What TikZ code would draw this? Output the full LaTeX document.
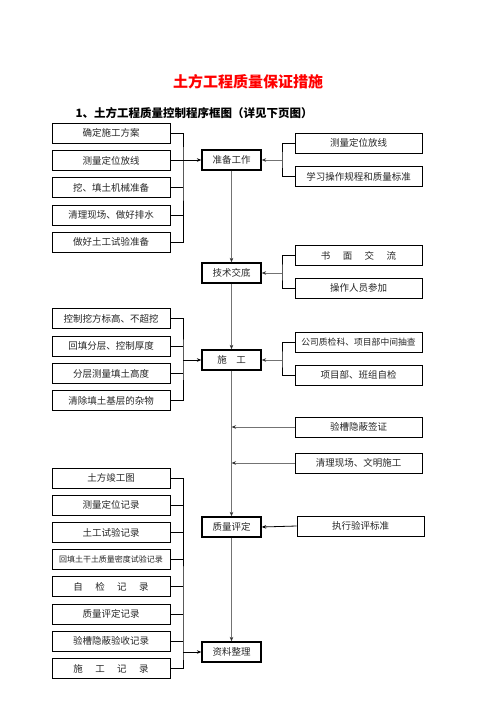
\documentclass[tikz,border=0pt]{standalone}
\usepackage{fontspec}
\setmainfont{Noto Sans CJK SC}
\usepackage{tikz}
\usetikzlibrary{arrows.meta}
\colorlet{linegray}{black!55!white}
\colorlet{boxtext}{black!85!white}

\tikzset{
  leftbox/.style={draw,line width=0.8pt,minimum width=118pt,minimum height=20pt,inner sep=0pt,
    text=boxtext,font=\fontsize{9.5}{10}\selectfont},
  rightbox/.style={leftbox,minimum width=127pt},
  midbox/.style={leftbox,line width=1.3pt,minimum width=59pt},
  brace/.style={line width=0.8pt},
  link/.style={line width=0.8pt,draw=linegray,>={Stealth[length=4.5pt,width=3.5pt,color=black!80]}},
  >={Stealth[length=4.5pt,width=3.5pt]}
}

\begin{document}
\begin{tikzpicture}[x=1pt,y=-1pt]
      \useasboundingbox (0,0) rectangle (496,702);

      \node[text=red,font=\bfseries\fontsize{15}{15}\selectfont] (title) at (248,82) {土方工程质量保证措施};
      \node[anchor=west,font=\bfseries\fontsize{11.5}{12}\selectfont] (sub) at (72,113) {1、土方工程质量控制程序框图（详见下页图）};

      % middle column
      \node[midbox] (zb) at (231.5,160) {准备工作};
      \node[midbox] (jd) at (231.5,273) {技术交底};
      \node[midbox] (sg) at (231.5,360) {施\hspace{1em}工};
      \node[midbox] (pd) at (231.5,527) {质量评定};
      \node[midbox] (zl) at (231.5,652) {资料整理};

      \draw[link,->] (zb.south) -- (jd.north);
      \draw[link,->] (jd.south) -- (sg.north);
      \draw[link,->] (sg.south) -- (pd.north);
      \draw[link,->] (pd.south) -- (zl.north);

      % left groups
      \node[leftbox] (a1) at (111,133) {确定施工方案};
      \node[leftbox] (a2) at (111,160.5) {测量定位放线};
      \node[leftbox] (a3) at (111,187.5) {挖、填土机械准备};
      \node[leftbox] (a4) at (111,215) {清理现场、做好排水};
      \node[leftbox] (a5) at (111,242) {做好土工试验准备};
      \coordinate (ja) at (183,160);
      \draw[brace] (a1.east) -| (ja) |- (a5.east);
      \foreach \n in {a2,a3,a4} \draw[brace] (\n.east) -- (\n.east -| ja);
      \draw[brace,->] (ja) -- (zb.west);

      \node[leftbox] (c1) at (111,318.5) {控制挖方标高、不超挖};
      \node[leftbox] (c2) at (111,346) {回填分层、控制厚度};
      \node[leftbox] (c3) at (111,373.5) {分层测量填土高度};
      \node[leftbox] (c4) at (111,400.5) {清除填土基层的杂物};
      \coordinate (jc) at (183,360);
      \draw[brace] (c1.east) -| (jc) |- (c4.east);
      \foreach \n in {c2,c3} \draw[brace] (\n.east) -- (\n.east -| jc);
      \draw[brace,->] (jc) -- (sg.west);

      \foreach \t [count=\i] in {土方竣工图,测量定位记录,土工试验记录,
          {\fontsize{8}{8}\selectfont 回填土干土质量密度试验记录},
          自\hspace{1.3em}检\hspace{1.3em}记\hspace{1.3em}录,质量评定记录,验槽隐蔽验收记录,
          施\hspace{1.3em}工\hspace{1.3em}记\hspace{1.3em}录}
        \node[leftbox] (d\i) at (111,{478+27.2*(\i-1)}) {\t};
      \coordinate (je) at (183,652);
      \draw[brace] (d1.east) -| (je) |- (d8.east);
      \foreach \i in {2,...,7} \draw[brace] (d\i.east) -- (d\i.east -| je);
      \draw[brace,->] (je) -- (zl.west);

      % right groups
      \node[rightbox] (b1) at (358.5,143) {测量定位放线};
      \node[rightbox] (b2) at (358.5,176.5) {学习操作规程和质量标准};
      \coordinate (jb) at (282,160);
      \draw[brace] (b1.west) -| (jb) |- (b2.west);
      \draw[link,->] (jb) -- (zb.east);

      \node[rightbox] (e1) at (358.5,255.5) {书\hspace{1.3em}面\hspace{1.3em}交\hspace{1.3em}流};
      \node[rightbox] (e2) at (358.5,288) {操作人员参加};
      \coordinate (jf) at (282,273);
      \draw[brace] (e1.west) -| (jf) |- (e2.west);
      \draw[link,->] (jf) -- (jd.east);

      \node[rightbox,font=\fontsize{8.8}{9}\selectfont] (f1) at (358.5,342) {公司质检科、项目部中间抽查};
      \node[rightbox] (f2) at (358.5,375) {项目部、班组自检};
      \coordinate (jg) at (282,360);
      \draw[brace] (f1.west) -| (jg) |- (f2.west);
      \draw[link,->] (jg) -- (sg.east);

      \node[rightbox] (g1) at (358.5,427) {验槽隐蔽签证};
      \node[rightbox] (g2) at (358.5,463) {清理现场、文明施工};
      \draw[link,->] (g1.west) -- (g1.west -| sg.south);
      \draw[link,->] (g2.west) -- (g2.west -| sg.south);

      \node[rightbox] (h1) at (360.5,526) {执行验评标准};
      \draw[brace,->] (h1.west) -- (pd.east);

\end{tikzpicture}
\end{document}
